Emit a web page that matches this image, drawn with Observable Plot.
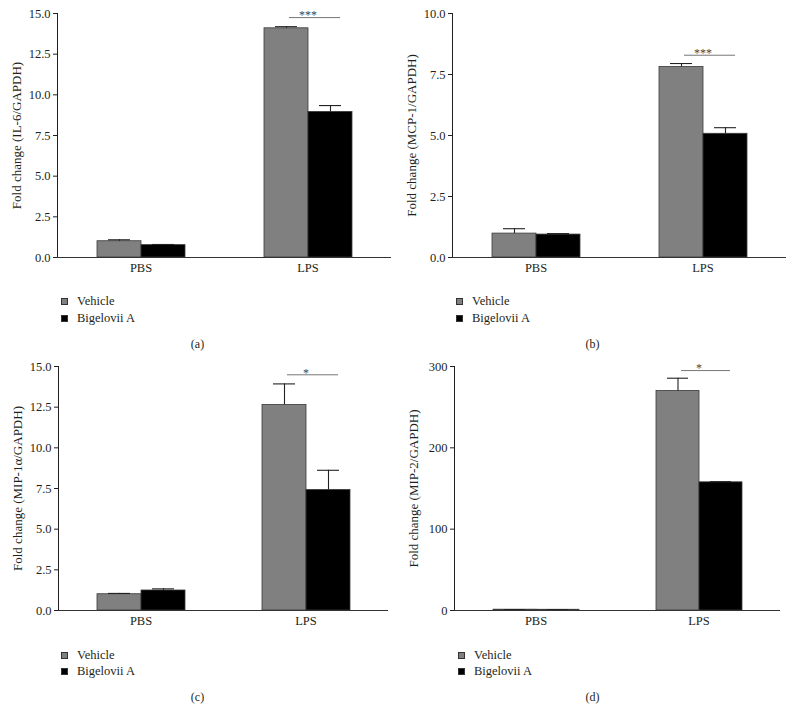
<!DOCTYPE html>
<html><head><meta charset="utf-8">
<script src="https://cdn.jsdelivr.net/npm/d3@7"></script>
<script src="https://cdn.jsdelivr.net/npm/@observablehq/plot@0.6"></script>
<style>
body{margin:0;background:#fff;font-family:"Liberation Serif",serif;color:#231f20}
#root{position:relative;width:790px;height:723px;overflow:hidden}
.panel{position:absolute;width:395px;height:353px}
.panel svg{position:absolute;left:0;top:0;overflow:visible}
.legend{position:absolute;font-size:12.5px;line-height:16.6px}
.legend .row{display:flex;align-items:center;height:16.6px;white-space:nowrap}
.sw{width:7px;height:7px;margin-right:9px;box-sizing:border-box;border:1px solid #333}
.cap{position:absolute;left:0;width:100%;text-align:center;font-size:12px;line-height:14px}
</style></head><body><div id="root"></div>
<script>
// ---- data ----
const groups = ["PBS", "LPS"];
const series = ["Vehicle", "Bigelovii A"];
const seriesColors = ["#808080", "#000000"];
const captions = ["(a)", "(b)", "(c)", "(d)"];
const yLabels = ["Fold change (IL-6/GAPDH)", "Fold change (MCP-1/GAPDH)", "Fold change (MIP-1\u03b1/GAPDH)", "Fold change (MIP-2/GAPDH)"];

// values per group [PBS, LPS]
const il6Vehicle = [1.0, 14.09];
const il6VehicleErr = [0.09, 0.1];
const il6Bigelovii = [0.76, 8.95];
const il6BigeloviiErr = [0.04, 0.39];

const mcp1Vehicle = [0.98, 7.81];
const mcp1VehicleErr = [0.2, 0.14];
const mcp1Bigelovii = [0.94, 5.07];
const mcp1BigeloviiErr = [0.04, 0.25];

const mip1aVehicle = [1.0, 12.64];
const mip1aVehicleErr = [0.05, 1.29];
const mip1aBigelovii = [1.23, 7.41];
const mip1aBigeloviiErr = [0.1, 1.21];

const mip2Vehicle = [1.0, 270];
const mip2VehicleErr = [0.2, 15.6];
const mip2Bigelovii = [0.9, 157.6];
const mip2BigeloviiErr = [0.2, 0.8];

const sigLabels = ["***", "***", "*", "*"];
const sigLevels = [14.75, 8.29, 14.49, 295];

const yDomains = [[0, 15], [0, 10], [0, 15], [0, 300]];
const yTicks = [
  [0, 2.5, 5, 7.5, 10, 12.5, 15],
  [0, 2.5, 5, 7.5, 10],
  [0, 2.5, 5, 7.5, 10, 12.5, 15],
  [0, 100, 200, 300]
];
const yFormats = [".1f", ".1f", ".1f", "d"];

// ---- layout (style) ----
const layout = [
  {left: 0, top: 0, mL: 57, mR: 4},
  {left: 395, top: 0, mL: 57, mR: 4},
  {left: 0, top: 353.4, mL: 57, mR: 7},
  {left: 395, top: 353.4, mL: 59, mR: 10}
];

const panelValues = [
  [il6Vehicle, il6VehicleErr, il6Bigelovii, il6BigeloviiErr],
  [mcp1Vehicle, mcp1VehicleErr, mcp1Bigelovii, mcp1BigeloviiErr],
  [mip1aVehicle, mip1aVehicleErr, mip1aBigelovii, mip1aBigeloviiErr],
  [mip2Vehicle, mip2VehicleErr, mip2Bigelovii, mip2BigeloviiErr]
];

const root = document.getElementById("root");

panelValues.forEach((pv, p) => {
  const [vv, ve, bv, be] = pv;
  const rows = [];
  groups.forEach((g, i) => {
    rows.push({group: g, series: series[0], value: vv[i], err: ve[i]});
    rows.push({group: g, series: series[1], value: bv[i], err: be[i]});
  });
  const sig = [{group: "LPS", y: sigLevels[p], label: sigLabels[p]}];
  const L = layout[p];

  const chart = Plot.plot({
    width: 395,
    height: 280,
    marginTop: 13,
    marginBottom: 23,
    marginLeft: L.mL,
    marginRight: L.mR,
    style: {fontFamily: "'Liberation Serif', serif", fontSize: "12.5px", color: "#231f20", background: "transparent", overflow: "visible"},
    fx: {domain: groups, padding: 0, axis: "bottom", tickSize: 0, tickPadding: 6, label: null},
    x: {domain: series, paddingInner: 0, paddingOuter: 0.87, axis: null},
    y: {domain: yDomains[p], ticks: yTicks[p], tickFormat: d3.format(yFormats[p]), tickSize: 4, tickPadding: 3, line: true, label: null, grid: false},
    color: {domain: series, range: seriesColors},
    marks: [
      Plot.barY(rows, {fx: "group", x: "series", y: "value", fill: "series", stroke: "#3a3a3a", strokeWidth: 0.8, inset: 0}),
      Plot.ruleX(rows, {fx: "group", x: "series", y1: "value", y2: d => d.value + d.err, stroke: "#222", strokeWidth: 1.1}),
      Plot.tickY(rows, {fx: "group", x: "series", y: d => d.value + d.err, inset: 11, stroke: "#222", strokeWidth: 1.1}),
      Plot.ruleY([0], {stroke: "#333", strokeWidth: 1}),
      Plot.ruleY(sig, {fx: "group", y: "y", x1: () => series[0], x2: () => series[1], insetLeft: 25, insetRight: 12, stroke: "#777", strokeWidth: 1}),
      Plot.text(sig, {fx: "group", y: "y", text: "label", fontSize: 12, dy: -2, fill: "#444444"}),
      Plot.text([yLabels[p]], {fx: () => groups[0], text: d => d, frameAnchor: "left", textAnchor: "middle", rotate: -90, dx: -41, fontSize: 13, fill: "#231f20"})
    ]
  });

  const panel = document.createElement("div");
  panel.className = "panel";
  panel.style.left = L.left + "px";
  panel.style.top = L.top + "px";
  panel.appendChild(chart);

  const legend = document.createElement("div");
  legend.className = "legend";
  legend.style.left = (L.mL + 4) + "px";
  legend.style.top = "293.4px";
  series.forEach((s, i) => {
    const r = document.createElement("div");
    r.className = "row";
    const sw = document.createElement("span");
    sw.className = "sw";
    sw.style.background = seriesColors[i];
    r.appendChild(sw);
    r.appendChild(document.createTextNode(s));
    legend.appendChild(r);
  });
  panel.appendChild(legend);

  const cap = document.createElement("div");
  cap.className = "cap";
  cap.style.top = "337px";
  cap.textContent = captions[p];
  panel.appendChild(cap);

  root.appendChild(panel);
});
</script>
</body></html>
